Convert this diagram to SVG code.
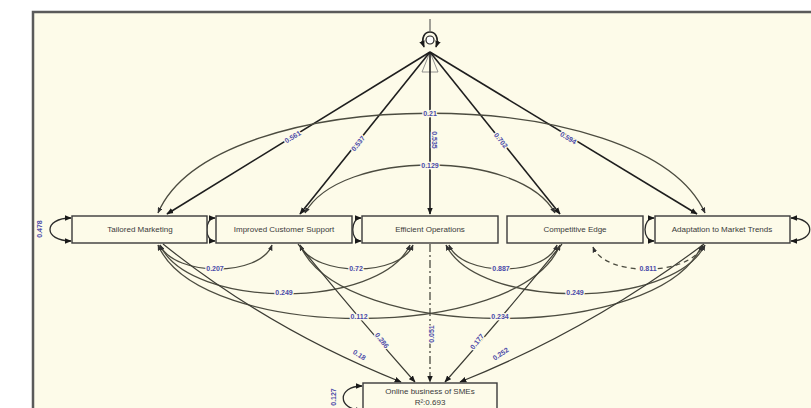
<svg xmlns="http://www.w3.org/2000/svg" width="811" height="408" viewBox="0 0 811 408">
<defs>
<marker id="ah" viewBox="0 0 10 8" refX="9" refY="4" markerWidth="7" markerHeight="6" markerUnits="userSpaceOnUse" orient="auto-start-reverse"><path d="M0,0 L10,4 L0,8 z" fill="#1a1a1a"/></marker>
<marker id="ahs" viewBox="0 0 10 8" refX="9" refY="4" markerWidth="6" markerHeight="5" markerUnits="userSpaceOnUse" orient="auto-start-reverse"><path d="M0,0 L10,4 L0,8 z" fill="#333"/></marker>
</defs>
<style>
.bg{fill:#fdfbe9;stroke:#5a5a5a;stroke-width:2.5}
.box{fill:#fdfbe9;stroke:#3a3a3a;stroke-width:1.4}
.nt{font-family:"Liberation Sans",Arial,sans-serif;font-size:8px;fill:#3a3a3a;text-anchor:middle}
.path{fill:none;stroke:#1e1e1e;stroke-width:1.6;marker-end:url(#ah)}
.out{fill:none;stroke:#3c3c34;stroke-width:1.2;marker-end:url(#ah)}
.cov{fill:none;stroke:#4c4c40;stroke-width:1.3;marker-start:url(#ahs);marker-end:url(#ahs)}
.loop{fill:none;stroke:#2a2a2a;stroke-width:1.3;marker-start:url(#ah);marker-end:url(#ah)}
.lb{font-family:"Liberation Sans",Arial,sans-serif;font-size:7px;font-weight:bold;fill:#4a4aa8;text-anchor:middle;paint-order:stroke;stroke:#fdfbe9;stroke-width:2.5px}
</style>
<rect x="0" y="0" width="811" height="408" fill="#ffffff"/>
<rect class="bg" x="33" y="12" width="800" height="420"/>

<g id="connectors">
  <!-- top latent loop -->
  <line x1="430" y1="19" x2="430" y2="31" stroke="#444" stroke-width="1"/>
  <path d="M424,47 C417,27 443,27 436,47" fill="none" stroke="#222" stroke-width="1.6" marker-start="url(#ah)" marker-end="url(#ah)"/>
  <path d="M430,52 L422,72 L438,72 Z" fill="none" stroke="#777" stroke-width="0.8"/>
  <!-- direct paths from top -->
  <path class="path" d="M430,52 L167,214"/>
  <path class="path" d="M430,52 L300,214"/>
  <path class="path" d="M430,52 L430,214"/>
  <path class="path" d="M430,52 L560,214"/>
  <path class="path" d="M430,52 L697,214"/>
  <!-- upper covariances -->
  <path class="cov" d="M158,213 C215,80 645,80 705,213"/>
  <path class="cov" d="M305,213 C340,149 520,149 555,213"/>
  <!-- lower covariances -->
  <path class="cov" d="M160,245 C175,277 260,277 272,245"/>
  <path class="cov" d="M300,245 C315,277 400,277 413,245"/>
  <path class="cov" d="M449,245 C462,277 545,277 557,245"/>
  <path class="cov" d="M593,247 C605,277 690,277 703,245" stroke-dasharray="5,4" stroke="#8a8a80"/>
  <path class="cov" d="M160,245 C190,310 380,310 410,245"/>
  <path class="cov" d="M446,245 C478,310 672,310 705,245"/>
  <path class="cov" d="M158,245 C200,343 520,343 560,245"/>
  <path class="cov" d="M300,245 C342,343 660,343 702,245"/>
  <!-- paths to outcome -->
  <path class="out" d="M163,244 Q270,330 401,382"/>
  <path class="out" d="M298,244 Q360,320 415,382"/>
  <path class="out" d="M430,244 L430,382" stroke-dasharray="8,3,2,3"/>
  <path class="out" d="M562,244 Q500,320 445,382"/>
  <path class="out" d="M704,244 Q590,330 460,382"/>
  <!-- residual loops -->
  <path class="loop" d="M71,218 C43,218 43,241 71,241"/>
  <path class="loop" d="M215,218 C204,218 204,241 215,241"/>
  <path class="loop" d="M361,218 C350,218 350,241 361,241"/>
  <path class="loop" d="M654,218 C642,218 642,241 654,241"/>
  <path class="loop" d="M791,218 C816,218 816,241 791,241"/>
  <path class="loop" d="M362,386 C337,386 337,410 362,410"/>
  <!-- labels -->
  <text class="lb" transform="translate(294,139) rotate(-31.6)">0.561</text>
  <text class="lb" transform="translate(360,145) rotate(-51)">0.537</text>
  <text class="lb" x="430" y="116">0.21</text>
  <text class="lb" transform="translate(432,140) rotate(90)">0.535</text>
  <text class="lb" x="430" y="168">0.129</text>
  <text class="lb" transform="translate(499,142) rotate(51)">0.702</text>
  <text class="lb" transform="translate(567,140) rotate(31.6)">0.594</text>
  <text class="lb" transform="translate(42,229) rotate(-90)">0.478</text>
  <text class="lb" x="215" y="271">0.207</text>
  <text class="lb" x="356" y="271">0.72</text>
  <text class="lb" x="501" y="271">0.887</text>
  <text class="lb" x="648" y="271">0.811</text>
  <text class="lb" x="284" y="295">0.249</text>
  <text class="lb" x="575" y="295">0.249</text>
  <text class="lb" x="359" y="319">0.112</text>
  <text class="lb" x="500" y="319">0.234</text>
  <text class="lb" transform="translate(358,357) rotate(33)">0.18</text>
  <text class="lb" transform="translate(380,342) rotate(52)">0.286</text>
  <text class="lb" transform="translate(434,334) rotate(-90)">0.051</text>
  <text class="lb" transform="translate(479,343) rotate(-52)">0.177</text>
  <text class="lb" transform="translate(502,356) rotate(-33)">0.252</text>
  <text class="lb" transform="translate(336,397) rotate(-90)">0.127</text>
</g>

<g id="tailored-marketing"><rect class="box" x="72" y="216" width="135" height="27"/><text class="nt" x="140" y="232">Tailored Marketing</text></g>
<g id="improved-customer-support"><rect class="box" x="216" y="216" width="136" height="27"/><text class="nt" x="284" y="232">Improved Customer Support</text></g>
<g id="efficient-operations"><rect class="box" x="362" y="216" width="136" height="27"/><text class="nt" x="430" y="232">Efficient Operations</text></g>
<g id="competitive-edge"><rect class="box" x="507" y="216" width="136" height="27"/><text class="nt" x="575" y="232">Competitive Edge</text></g>
<g id="adaptation-market-trends"><rect class="box" x="655" y="216" width="135" height="27"/><text class="nt" x="722" y="232">Adaptation to Market Trends</text></g>
<g id="online-business"><rect class="box" x="363" y="383" width="134" height="30"/><text class="nt" x="430" y="394">Online business of SMEs</text><text class="nt" x="430" y="405">R²:0.693</text></g>
<g id="top-factor"><circle cx="430" cy="40" r="4" fill="#ffffff" stroke="#222" stroke-width="1.2"/></g>
</svg>
